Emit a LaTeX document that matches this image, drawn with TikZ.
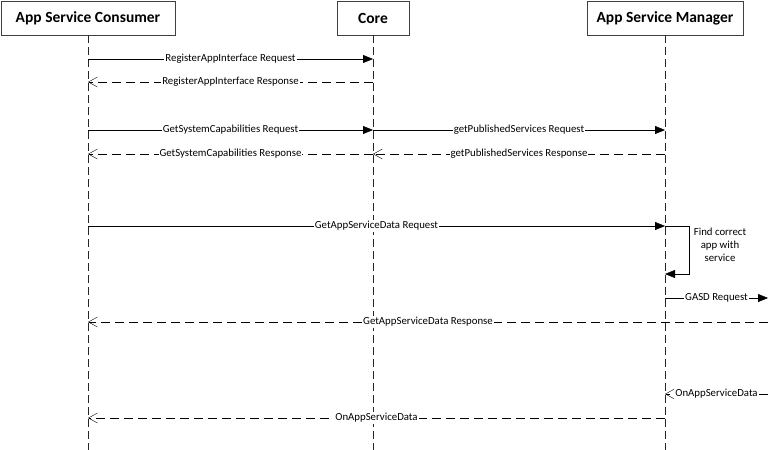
\documentclass[tikz,border=0pt]{standalone}
\usepackage{fontspec}
\setmainfont{Carlito}
\usetikzlibrary{arrows.meta}

\begin{document}
\begin{tikzpicture}
[x=1pt,y=-1pt,
  boxDecorate/.style={draw=black!75,fill=white,minimum height=34pt,inner sep=0pt,%
    font=\fontsize{15.5}{17}\selectfont\bfseries},%
  lifeDecorate/.style={draw=black!85,dash pattern=on 8pt off 4pt},%
  callDecorate/.style={-{Triangle[length=10pt,width=8pt]}},%
  backDecorate/.style={dash pattern=on 9pt off 5pt,-{Straight Barb[length=9pt,width=10pt]}},%
  msgDecorate/.style={fill=white,inner sep=1pt,font=\fontsize{10.8}{12}\selectfont}]
\useasboundingbox (0,0) rectangle (769,450);
%% participants and lifelines
\foreach \nodename/\x/\w/\text in {
  consumer/88/174/App Service Consumer, core/373/72/Core,
  manager/665/156/App Service Manager}
{
  \node (\nodename) at (\x,18) [boxDecorate,minimum width=\w pt] {\text};
  \coordinate (\nodename end) at (\x,450);
  \draw[lifeDecorate] (\nodename) -- (\nodename end);
}
%% message rows
\foreach \row/\y in {a/59, b/82, c/130, d/154, e/226, f/274, g/298, h/322, i/394, j/418}
{
  \coordinate (consumer\row) at (consumer |- 0,\y);
  \coordinate (core\row) at (core |- 0,\y);
  \coordinate (manager\row) at (manager |- 0,\y);
  \coordinate (edge\row) at (768,\y);
}
%% messages
\foreach \startnode/\endnode/\kind/\text in {
  consumera/corea/callDecorate/RegisterAppInterface Request,
  coreb/consumerb/backDecorate/RegisterAppInterface Response,
  consumerc/corec/callDecorate/GetSystemCapabilities Request,
  corec/managerc/callDecorate/getPublishedServices Request,
  cored/consumerd/backDecorate/GetSystemCapabilities Response,
  managerd/cored/backDecorate/getPublishedServices Response,
  consumere/managere/callDecorate/GetAppServiceData Request,
  managerg/edgeg/callDecorate/GASD Request,
  edgeh/consumerh/backDecorate/GetAppServiceData Response,
  edgei/manageri/backDecorate/OnAppServiceData,
  managerj/consumerj/backDecorate/OnAppServiceData}
{
  \draw[\kind] (\startnode) -- node[msgDecorate] {\text} (\endnode);
}
%% self call
\draw[callDecorate] (managere) -- ++(24,0) |- (managerf);
\node (findApp) at (720,245) [align=center,font=\fontsize{10.8}{13}\selectfont] {Find correct\\app with\\service};
\end{tikzpicture}
\end{document}
